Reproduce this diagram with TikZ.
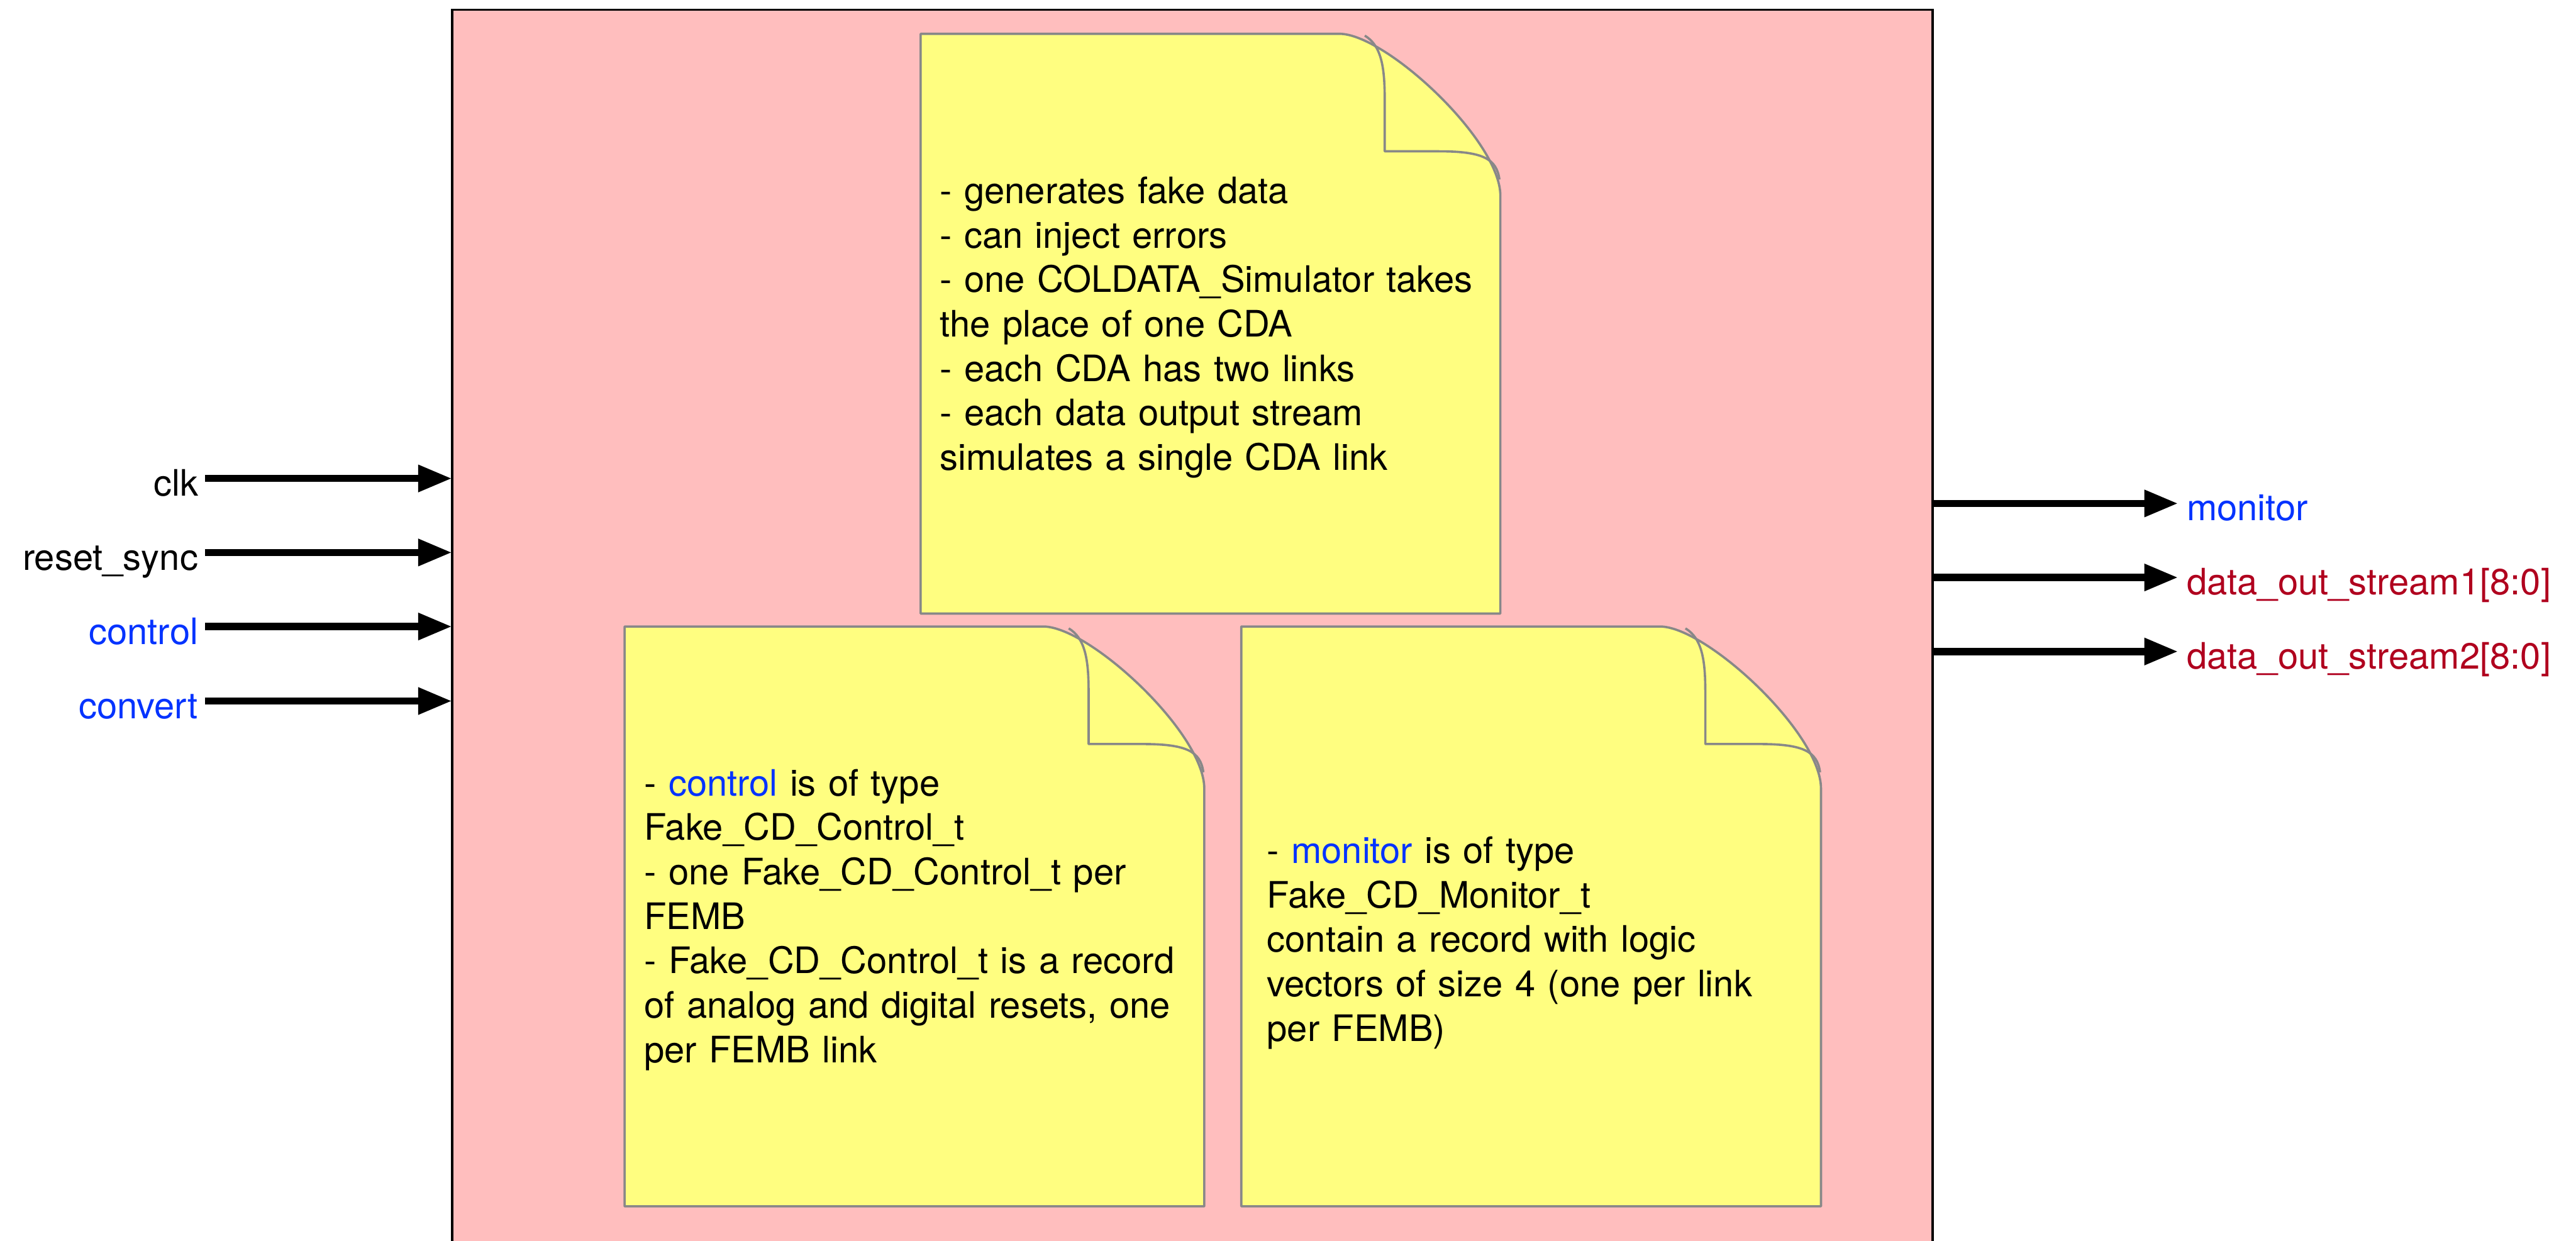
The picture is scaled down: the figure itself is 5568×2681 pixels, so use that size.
\documentclass[tikz,border=0pt]{standalone}
\usepackage{fontspec}
\setmainfont{TeX Gyre Heros}
\usetikzlibrary{arrows.meta}

\definecolor{boxpink}{HTML}{FFBEBE}
\definecolor{noteyellow}{HTML}{FFFE80}
\definecolor{notegray}{HTML}{888888}
\definecolor{sigblue}{HTML}{0433FF}
\definecolor{sigred}{HTML}{B0001E}

\tikzset{
  sig/.style={line width=4.5pt, -{Triangle[length=0.73cm,width=0.55cm]}},
  inlabel/.style={anchor=base east, inner sep=0pt, font=\mainsize},
  outlabel/.style={anchor=base west, inner sep=0pt, font=\mainsize},
  notetext/.style={anchor=base west, inner sep=0pt, text width=14cm, align=left, font=\mainsize},
  noteline/.style={draw=notegray, line width=1.4pt, line join=round},
  pics/stickynote/.style={code={
    \fill[noteyellow] (0,0) -- (905,0) .. controls (1005,0) and (1253,230) .. (1253,350)
      -- (1253,1253) -- (0,1253) -- cycle;
    \draw[noteline] (0,0) -- (905,0) .. controls (1005,0) and (1253,230) .. (1253,350)
      -- (1253,1253) -- (0,1253) -- cycle;
    \draw[noteline] (960,4) .. controls (995,25) and (1003,70) .. (1003,140)
      -- (1003,254) -- (1120,254) .. controls (1215,254) and (1245,270) .. (1251,315);
  }}
}
\newcommand{\mainsize}{\fontsize{22.4pt}{27.3pt}\selectfont}

\begin{document}
\begin{tikzpicture}[x=0.01cm, y=-0.01cm]
\useasboundingbox (0,0) rectangle (5568,2681);
\clip (0,0) rectangle (5568,2681);

% block body, open towards the bottom edge
\fill[boxpink] (977,21) rectangle (4177,2750);
\draw[line width=1.45pt] (977,2750) -- (977,21) -- (4177,21) -- (4177,2750);

% sticky notes
\pic at (1990,73) {stickynote};
\pic at (1350,1354) {stickynote};
\pic at (2683,1354) {stickynote};

\node[notetext] (notegen) at (2031,440) {%
- generates fake data\\
- can inject errors\\
- one COLDATA\_Simulator takes\\
the place of one CDA\\
- each CDA has two links\\
- each data output stream\\
simulates a single CDA link};

\node[notetext] (notectl) at (1392,1720) {%
- \textcolor{sigblue}{control} is of type\\
Fake\_CD\_Control\_t\\
- one Fake\_CD\_Control\_t per\\
FEMB\\
- Fake\_CD\_Control\_t is a record\\
of analog and digital resets, one\\
per FEMB link};

\node[notetext] (notemon) at (2738,1866) {%
- \textcolor{sigblue}{monitor} is of type\\
Fake\_CD\_Monitor\_t\\
contain a record with logic\\
vectors of size 4 (one per link\\
per FEMB)};

% inputs
\node[inlabel] (lclk) at (429,1072) {clk};
\node[inlabel] (lrst) at (429,1232) {reset\_sync};
\node[inlabel, text=sigblue] (lctl) at (429,1392) {control};
\node[inlabel, text=sigblue] (lcnv) at (429,1553) {convert};

\coordinate (pclk) at (977,1034);
\coordinate (prst) at (977,1194);
\coordinate (pctl) at (977,1354);
\coordinate (pcnv) at (977,1515);

\draw[sig] (lclk.east |- pclk) ++(14,0) -- (pclk);
\draw[sig] (lrst.east |- prst) ++(14,0) -- (prst);
\draw[sig] (lctl.east |- pctl) ++(14,0) -- (pctl);
\draw[sig] (lcnv.east |- pcnv) ++(14,0) -- (pcnv);

% outputs
\node[outlabel, text=sigblue] (lmon) at (4726,1125) {monitor};
\node[outlabel, text=sigred] (ld1) at (4726,1285) {data\_out\_stream1[8:0]};
\node[outlabel, text=sigred] (ld2) at (4726,1445) {data\_out\_stream2[8:0]};

\coordinate (pmon) at (4177,1088);
\coordinate (pd1) at (4177,1248);
\coordinate (pd2) at (4177,1408);

\draw[sig] (pmon) -- ([xshift=-0.18cm]lmon.west |- pmon);
\draw[sig] (pd1) -- ([xshift=-0.18cm]ld1.west |- pd1);
\draw[sig] (pd2) -- ([xshift=-0.18cm]ld2.west |- pd2);
\end{tikzpicture}
\end{document}
